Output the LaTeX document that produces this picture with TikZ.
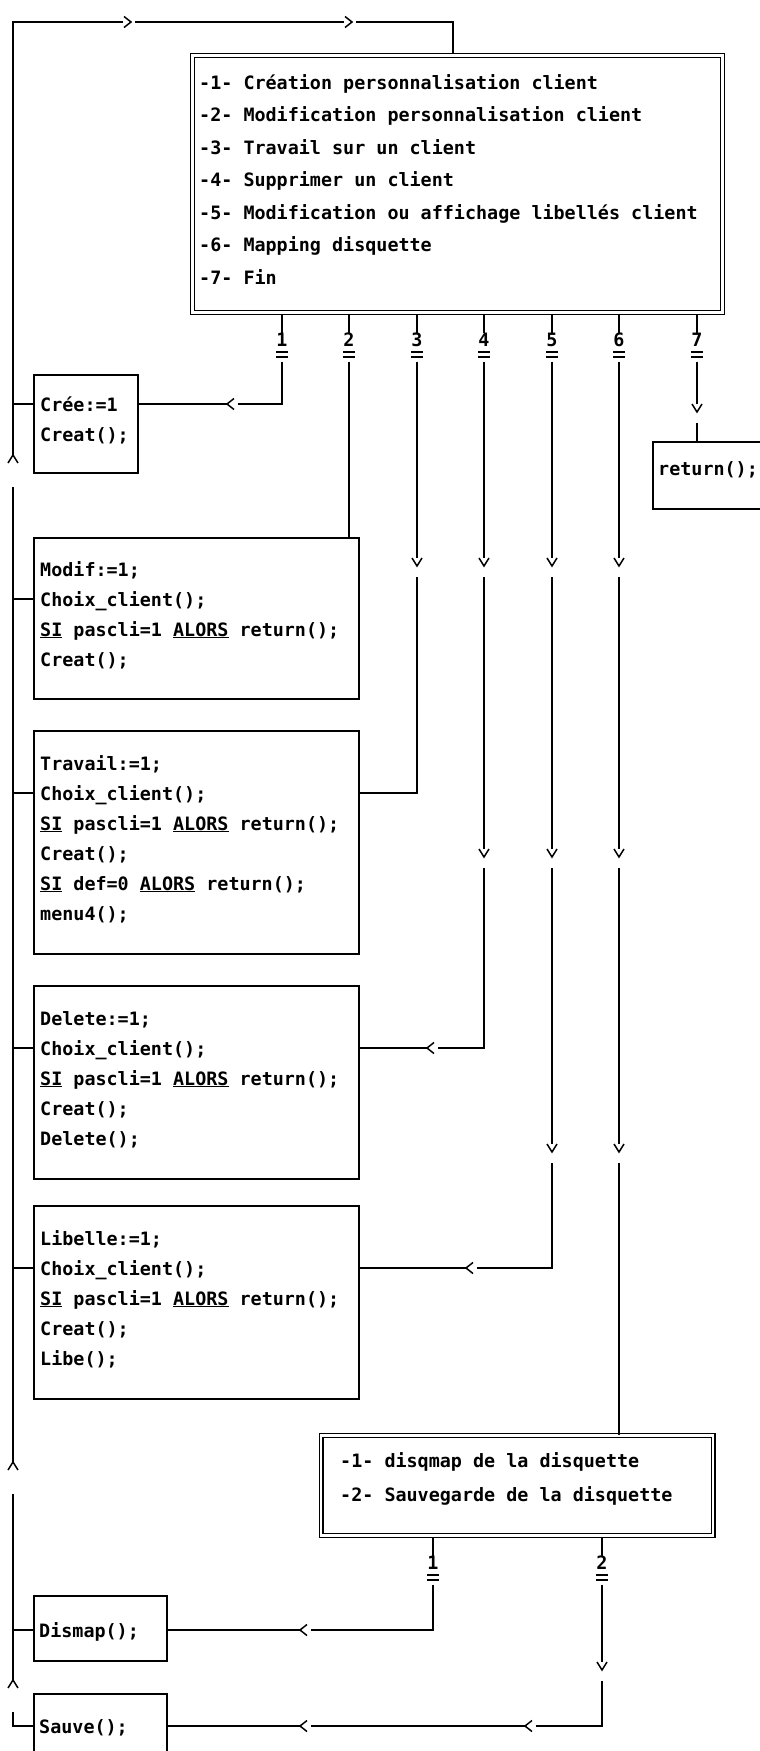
\documentclass[tikz,border=0pt]{standalone}
\usepackage{fontspec}
\newfontfamily\codefont{DejaVu Sans Mono}
\tikzset{
 chevl/.pic={\fill[white] (0.9,-6.5) rectangle (11,6.5); \draw[line width=1.5pt] (7,5.5) -- (0,0) -- (7,-5.5);},
 chevr/.pic={\fill[white] (-7.6,-6.5) rectangle (4,6.5); \draw[line width=1.5pt] (-7,5.5) -- (0,0) -- (-7,-5.5);},
 chevd/.pic={\fill[white] (-6.5,-11) rectangle (6.5,7.6); \draw[line width=1.5pt] (-5,8) -- (0,0) -- (5,8);},
 chevu/.pic={\fill[white] (-6.5,-32) rectangle (6.5,-0.9); \draw[line width=1.5pt] (-5,-8) -- (0,0) -- (5,-8);},
 ln/.style={line width=1.6pt},
 cbox/.style={draw, line width=1.6pt, inner sep=0pt, anchor=north west},
 mbox/.style={draw, line width=1.3pt, double, double distance=2.5pt, inner sep=0pt, anchor=north west},
 code/.style={font=\codefont\bfseries\fontsize{18.4}{30}\selectfont, inner sep=0pt, anchor=base west},
 num/.style={font=\codefont\bfseries\fontsize{18.4}{30}\selectfont, inner sep=0pt, text height=13pt, text depth=0pt},
}
\begin{document}
\begin{tikzpicture}[x=1pt,y=1pt]
\fill[white] (0,0) rectangle (760,-1751);
\useasboundingbox (0,0) rectangle (760,-1751);

% ---------- main menu ----------
\node[mbox, minimum width=530, minimum height=257] (menu) at (192,-55) {};
\node[code] (m1) at (199,-89) {-1- Création personnalisation client};
\node[code] (m2) at (199,-121.5) {-2- Modification personnalisation client};
\node[code] (m3) at (199,-154) {-3- Travail sur un client};
\node[code] (m4) at (199,-186.5) {-4- Supprimer un client};
\node[code] (m5) at (199,-219) {-5- Modification ou affichage libellés client};
\node[code] (m6) at (199,-251.5) {-6- Mapping disquette};
\node[code] (m7) at (199,-284) {-7- Fin};
\coordinate (mb) at (0,-313.5);
\coordinate (mt) at (453,-52.5);

% numbers
\node[num] (n1) at (282,-340) {1};
\node[num] (n2) at (349,-340) {2};
\node[num] (n3) at (417,-340) {3};
\node[num] (n4) at (484,-340) {4};
\node[num] (n5) at (552,-340) {5};
\node[num] (n6) at (619,-340) {6};
\node[num] (n7) at (697,-340) {7};
\foreach \i in {1,...,7}{
  \draw[ln] (n\i |- mb) -- (n\i.north);
  \draw[ln] ([xshift=-6pt,yshift=-5pt]n\i.south) -- ++(12,0);
  \draw[ln] ([xshift=-6pt,yshift=-10pt]n\i.south) -- ++(12,0);
  \coordinate (n\i b) at ([yshift=-15pt]n\i.south);
}

% ---------- boxes ----------
\node[cbox, minimum width=104, minimum height=98] (cree) at (33,-374) {};
\node[code] (c1) at (40,-411) {Crée:=1};
\node[code] (c2) at (40,-441) {Creat();};

\node[cbox, minimum width=140, minimum height=67] (ret) at (652,-441) {};
\node[code] (r1) at (658,-475) {return();};

\node[cbox, minimum width=325, minimum height=161] (modif) at (33,-537) {};
\node[code] (mo1) at (40,-576) {Modif:=1;};
\node[code] (mo2) at (40,-606) {Choix\_client();};
\node[code] (mo3) at (40,-636) {\underline{SI} pascli=1 \underline{ALORS} return();};
\node[code] (mo4) at (40,-666) {Creat();};

\node[cbox, minimum width=325, minimum height=223] (trav) at (33,-730) {};
\node[code] (t1) at (40,-770) {Travail:=1;};
\node[code] (t2) at (40,-800) {Choix\_client();};
\node[code] (t3) at (40,-830) {\underline{SI} pascli=1 \underline{ALORS} return();};
\node[code] (t4) at (40,-860) {Creat();};
\node[code] (t5) at (40,-890) {\underline{SI} def=0 \underline{ALORS} return();};
\node[code] (t6) at (40,-920) {menu4();};

\node[cbox, minimum width=325, minimum height=193] (del) at (33,-985) {};
\node[code] (d1) at (40,-1025) {Delete:=1;};
\node[code] (d2) at (40,-1055) {Choix\_client();};
\node[code] (d3) at (40,-1085) {\underline{SI} pascli=1 \underline{ALORS} return();};
\node[code] (d4) at (40,-1115) {Creat();};
\node[code] (d5) at (40,-1145) {Delete();};

\node[cbox, minimum width=325, minimum height=193] (lib) at (33,-1205) {};
\node[code] (l1) at (40,-1245) {Libelle:=1;};
\node[code] (l2) at (40,-1275) {Choix\_client();};
\node[code] (l3) at (40,-1305) {\underline{SI} pascli=1 \underline{ALORS} return();};
\node[code] (l4) at (40,-1335) {Creat();};
\node[code] (l5) at (40,-1365) {Libe();};

% ---------- second menu ----------
\node[mbox, minimum width=392, minimum height=100] (menu2) at (320.5,-1435) {};
\node[code] (s1) at (340,-1467) {-1- disqmap de la disquette};
\node[code] (s2) at (340,-1501) {-2- Sauvegarde de la disquette};
\coordinate (m2b) at (0,-1537);
\node[num] (p1) at (433,-1563) {1};
\node[num] (p2) at (602,-1563) {2};
\foreach \i in {1,2}{
  \draw[ln] (p\i |- m2b) -- (p\i.north);
  \draw[ln] ([xshift=-6pt,yshift=-5pt]p\i.south) -- ++(12,0);
  \draw[ln] ([xshift=-6pt,yshift=-10pt]p\i.south) -- ++(12,0);
  \coordinate (p\i b) at ([yshift=-15pt]p\i.south);
}

\node[cbox, minimum width=133, minimum height=65] (dism) at (33,-1595) {};
\node[code] (ds1) at (39,-1637) {Dismap();};
\node[cbox, minimum width=133, minimum height=80] (sauve) at (33,-1693) {};
\node[code] (sv1) at (39,-1733) {Sauve();};

% ---------- connectors ----------
\draw[ln] (n1b) |- ([yshift=-30pt]cree.north east);
\draw[ln] (n2b) -- (n2b |- modif.north);
\draw[ln] (n3b) |- ([yshift=-63pt]trav.north east);
\draw[ln] (n4b) |- ([yshift=-63pt]del.north east);
\draw[ln] (n5b) |- ([yshift=-63pt]lib.north east);
\draw[ln] (n6b) -- (n6b |- menu2.north);
\draw[ln] (n7b) -- (n7b |- ret.north);
\draw[ln] (p1b) |- ([yshift=-35pt]dism.north east);
\draw[ln] (p2b) |- ([yshift=-33pt]sauve.north east);

% left bus
\draw[ln] ([yshift=-33pt]sauve.north west) -| (13,-22) -| (mt);
\draw[ln] (13,-404) -- ([yshift=-30pt]cree.north west);
\draw[ln] (13,-599) -- ([yshift=-62pt]modif.north west);
\draw[ln] (13,-793) -- ([yshift=-63pt]trav.north west);
\draw[ln] (13,-1048) -- ([yshift=-63pt]del.north west);
\draw[ln] (13,-1268) -- ([yshift=-63pt]lib.north west);
\draw[ln] (13,-1630) -- ([yshift=-35pt]dism.north west);

% chevrons
\pic at (131,-22) {chevr};
\pic at (352,-22) {chevr};
\pic at (13,-455) {chevu};
\pic at (13,-1462) {chevu};
\pic at (13,-1680) {chevu};
\pic at (227,-404) {chevl};
\pic at (427,-1048) {chevl};
\pic at (466,-1268) {chevl};
\pic at (300,-1630) {chevl};
\pic at (300,-1726) {chevl};
\pic at (525,-1726) {chevl};
\pic at (697,-412) {chevd};
\foreach \x in {417,484,552,619} \pic at (\x,-566) {chevd};
\foreach \x in {484,552,619} \pic at (\x,-857) {chevd};
\foreach \x in {552,619} \pic at (\x,-1152) {chevd};
\pic at (602,-1670) {chevd};
\end{tikzpicture}
\end{document}
